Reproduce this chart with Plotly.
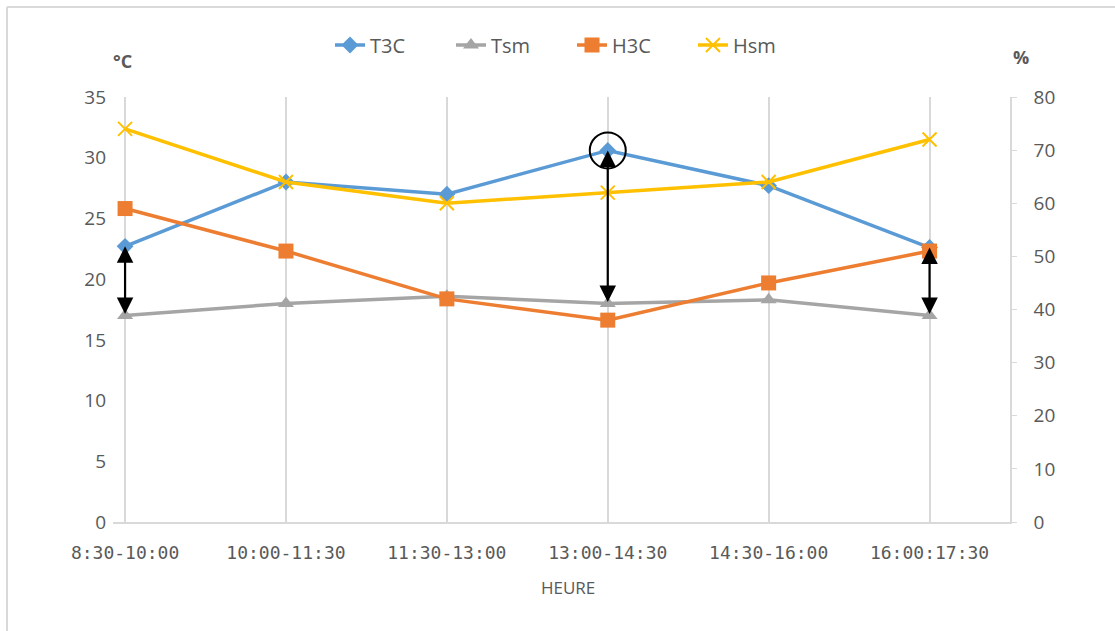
import plotly.graph_objects as go

# Time slots (x categories)
heures = ["8:30-10:00", "10:00-11:30", "11:30-13:00", "13:00-14:30", "14:30-16:00", "16:00:17:30"]

# Temperatures (°C, left axis)
t3c = [22.7, 28.0, 27.0, 30.6, 27.7, 22.6]
tsm = [17.0, 18.0, 18.6, 18.0, 18.3, 17.0]

# Humidity (%, right axis)
h3c = [59, 51, 42, 38, 45, 51]
hsm = [74, 64, 60, 62, 64, 72]

# Double-headed arrows between T3C and Tsm at selected slots
arrow_idx = [0, 3, 5]

xs = list(range(len(heures)))
grey_txt = "#595959"
font_family = "Open Sans, Liberation Sans, sans-serif"

# Plot area in pixels (page is 1115x631)
L, R, T, B = 113, 105, 97, 109
PW, PH = 1115 - L - R, 631 - T - B


def px(xp):
    return (xp - L) / PW


def py(yp):
    return (631 - B - yp) / PH


fig = go.Figure()
fig.add_trace(go.Scatter(x=xs, y=t3c, name="T3C", mode="lines+markers",
                         line=dict(color="#5B9BD5", width=3.5),
                         marker=dict(symbol="diamond", size=13, color="#5B9BD5")))
fig.add_trace(go.Scatter(x=xs, y=tsm, name="Tsm", mode="lines+markers",
                         line=dict(color="#A5A5A5", width=3.5),
                         marker=dict(symbol="triangle-up", size=14, color="#A5A5A5")))
fig.add_trace(go.Scatter(x=xs, y=h3c, name="H3C", mode="lines+markers", yaxis="y2",
                         line=dict(color="#ED7D31", width=3.5),
                         marker=dict(symbol="square", size=15, color="#ED7D31")))
fig.add_trace(go.Scatter(x=xs, y=hsm, name="Hsm", mode="lines+markers", yaxis="y2",
                         line=dict(color="#FFC000", width=3.5),
                         marker=dict(symbol="x-thin", size=14,
                                     line=dict(color="#FFC000", width=2))))

annotations = []
for i in arrow_idx:
    annotations.append(dict(x=i, y=t3c[i], ax=i, ay=tsm[i], xref="x", yref="y",
                            axref="x", ayref="y", showarrow=True, text="",
                            arrowside="end+start", arrowhead=2, startarrowhead=2,
                            arrowsize=1.5, startarrowsize=1.5, arrowwidth=2.2,
                            arrowcolor="black", standoff=0, startstandoff=0))

annotations += [
    dict(text="<b>°C</b>", x=px(122), y=py(61), xref="paper", yref="paper",
         xanchor="center", yanchor="middle", showarrow=False,
         font=dict(size=18, color=grey_txt, family=font_family)),
    dict(text="<b>%</b>", x=px(1021), y=py(57), xref="paper", yref="paper",
         xanchor="center", yanchor="middle", showarrow=False,
         font=dict(size=18, color=grey_txt, family=font_family)),
    dict(text="HEURE", x=px(568), y=py(587), xref="paper", yref="paper",
         xanchor="center", yanchor="middle", showarrow=False,
         font=dict(size=17, color=grey_txt, family=font_family)),
]

shapes = [
    dict(type="circle", xref="x", yref="y", xsizemode="pixel", ysizemode="pixel",
         xanchor=3, yanchor=t3c[3], x0=-18, x1=18, y0=-18, y1=18,
         line=dict(color="black", width=2)),
    dict(type="line", xref="paper", yref="paper", x0=px(7), x1=px(1115), y0=py(7), y1=py(7),
         line=dict(color="#d9d9d9", width=2)),
    dict(type="line", xref="paper", yref="paper", x0=px(7), x1=px(7), y0=py(7), y1=py(631),
         line=dict(color="#d9d9d9", width=2)),
]

fig.update_layout(
    width=1115, height=631,
    margin=dict(l=L, r=R, t=T, b=B),
    paper_bgcolor="white", plot_bgcolor="white",
    font=dict(family=font_family, color=grey_txt, size=16),
    showlegend=True,
    legend=dict(orientation="h", x=px(572), xanchor="center", y=py(45), yanchor="middle",
                font=dict(size=20, color=grey_txt), entrywidth=76, entrywidthmode="pixels",
                traceorder="normal"),
    xaxis=dict(range=[-0.075, 5.5], tickvals=xs, ticktext=heures,
               showgrid=True, gridcolor="#d9d9d9", gridwidth=1.5,
               showline=True, linecolor="#d9d9d9", linewidth=1.5,
               zeroline=False, ticks="", ticklabelstandoff=14,
               tickfont=dict(size=18, color=grey_txt, family="DejaVu Sans Mono, monospace")),
    yaxis=dict(range=[0, 35], dtick=5, showgrid=False, zeroline=False, showline=False,
               tickfont=dict(size=19, color=grey_txt), ticklabelstandoff=6),
    yaxis2=dict(range=[0, 80], dtick=10, overlaying="y", side="right", showgrid=False,
                zeroline=False, showline=True, linecolor="#d9d9d9", linewidth=1.5,
                ticks="outside", ticklen=5, tickcolor="#d9d9d9",
                tickfont=dict(size=19, color=grey_txt), ticklabelstandoff=13),
    annotations=annotations,
    shapes=shapes,
)

fig.write_html("out.html")
